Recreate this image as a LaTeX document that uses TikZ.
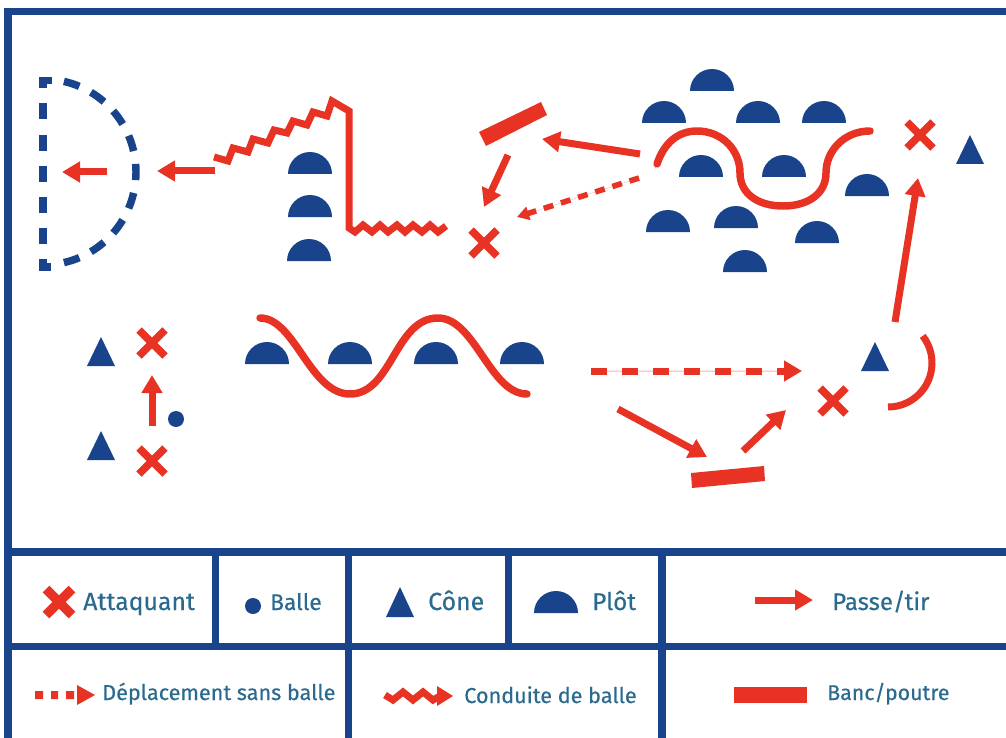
\documentclass[tikz,border=0pt]{standalone}
\usepackage{fontspec}
\setmainfont{Fira Sans}[FakeBold=0.35]
\usetikzlibrary{arrows.meta}
\definecolor{navy}{HTML}{19438A}
\definecolor{rouge}{HTML}{E83324}
\definecolor{legende}{HTML}{2A6A8F}
\newcommand{\mplot}[2]{\fill[navy] (#1-22,#2) arc[start angle=180,end angle=0,radius=16.5pt] -- cycle;}
\newcommand{\mcone}[3][14]{\fill[navy] (#2,#3-29) -- (#2+#1,#3) -- (#2-#1,#3) -- cycle;}
\newcommand{\mcross}[3][7.5]{\draw[rouge,line width=#1*0.75pt] (#2-13,#3-13) -- (#2+13,#3+13) (#2-13,#3+13) -- (#2+13,#3-13);}
\newcommand{\lblsize}[1]{\fontsize{#1}{20}\selectfont}
\tikzset{
  x=0.75pt,y=-0.75pt,
  frameline/.style={fill=navy,draw=none},
  redline/.style={draw=rouge,line width=5.25pt,line join=miter},
  curveline/.style={draw=rouge,line width=5.6pt,line cap=round},
  bluedash/.style={navy,line width=5.6pt},
  passarrow/.style={draw=rouge,fill=rouge,line width=5.25pt,-{Triangle[length=13.5pt,width=15pt]}},
  moverun/.style={passarrow,dash pattern=on 12pt off 11.25pt},
  lbl/.style={anchor=base west,inner sep=0pt,text=legende}
}
\begin{document}
\begin{tikzpicture}
\useasboundingbox (0,0) rectangle (1006,738);
\fill[white] (0,0) rectangle (1006,738);
% frame
\fill[frameline] (4,8) rectangle (12,738);
\fill[frameline] (4,8) rectangle (1006,15);
\fill[frameline] (4,548) rectangle (1006,556);
\fill[frameline] (4,643) rectangle (1006,650);
\fill[frameline] (212,548) rectangle (219,650);
\fill[frameline] (505,548) rectangle (512,650);
\fill[frameline] (345,548) rectangle (352,738);
\fill[frameline] (658,548) rectangle (666,738);
% goal
\foreach \a in {-72,-54,-36,-18,0,18,36,54,72}
  \draw[bluedash] ({43+93*cos(\a-5)},{172-93*sin(\a-5)}) arc[start angle=\a-5,end angle=\a+5,radius=69.75pt];
\foreach \y in {103,135,166,197,228}
  \draw[bluedash] (43,\y) -- (43,\y+16);
\draw[bluedash] (52,80.5) -- (43,80.5) -- (43,88);
\draw[bluedash] (43,259) -- (43,267) -- (51,267);
% arrows into goal
\coordinate (g1) at (107,172); \coordinate (g2) at (62,172);
\coordinate (g3) at (215,171); \coordinate (g4) at (157,171);
\draw[passarrow] (g1) -- (g2);
\draw[passarrow] (g3) -- (g4);
% plots column
\mplot{310}{174}\mplot{310}{217}\mplot{309}{261}
% dribble
\draw[redline] (214,157) -- (228,161) -- (233,148) -- (248,152) -- (253,139) -- (268,143) -- (274,130) -- (287,133) -- (293,121) -- (307,125) -- (313,112) -- (327,116) -- (332,101) -- (349,111) -- (349,228) -- (355,232) -- (363,225) -- (372,232) -- (380,225) -- (388,232) -- (397,225) -- (405,232) -- (413,225) -- (422,232) -- (430,225) -- (438,232) -- (446,226);
\mcross{484}{243}
% bench top
\fill[rouge] (541,102) -- (547,115) -- (486,146) -- (479,132) -- cycle;
\coordinate (a1) at (640,154); \coordinate (a2) at (542,139);
\draw[passarrow] (a1) -- (a2);
\coordinate (a3) at (508,155); \coordinate (a4) at (484,207);
\draw[passarrow] (a3) -- (a4);
\coordinate (a5) at (639,178); \coordinate (a6) at (517,217);
\draw[draw=rouge,fill=rouge,line width=4.2pt,dash pattern=on 7.5pt off 6pt,-{Triangle[length=9pt,width=10pt]}] (a5) -- (a6);
% plots field
\mplot{712}{91}\mplot{664}{123}\mplot{758}{123}\mplot{824}{123}
\mplot{701}{177}\mplot{784}{177}\mplot{867}{196}
\mplot{668}{232}\mplot{736}{228}\mplot{817}{243}\mplot{745}{272}
\draw[curveline] (657,164) .. controls (664,143) and (678,131) .. (697,131) .. controls (722,131) and (740,150) .. (740,173) .. controls (740,193) and (757,206) .. (783,206) .. controls (809,206) and (826,193) .. (826,173) .. controls (826,150) and (845,131) .. (870,131);
\mcross{920}{135}
\mcone{970}{164}
\coordinate (b1) at (895,322); \coordinate (b2) at (918,178);
\draw[passarrow] (b1) -- (b2);
% lower left
\mcone{101}{366}\mcone{101}{460}
\mcross{152}{343}\mcross{152}{461}
\coordinate (c1) at (152,426); \coordinate (c2) at (152,375);
\draw[passarrow] (c1) -- (c2);
\fill[navy] (176,419) circle[radius=6pt];
% row
\mplot{267}{364}\mplot{350}{364}\mplot{436}{364}\mplot{522}{364}
\draw[curveline] (260,318) .. controls (295,318) and (310,394) .. (350,394) .. controls (392,394) and (395,318) .. (438,318) .. controls (475,318) and (490,394) .. (527,394);
% lower right
\coordinate (d1) at (591,371); \coordinate (d2) at (802,371);
\draw[rouge,opacity=.12,line width=1.5pt] (d1) -- (d2);
\draw[moverun] (d1) -- (d2);
\coordinate (d3) at (618,409); \coordinate (d4) at (707,457);
\draw[passarrow] (d3) -- (d4);
\coordinate (d5) at (743,451); \coordinate (d6) at (786,410);
\draw[passarrow] (d5) -- (d6);
\fill[rouge] (691,473) -- (764,466) -- (765,481) -- (692,488) -- cycle;
\mcross{833}{401}
\mcone{875}{371}
\draw[redline] ({888+44*cos(38)},{363-44*sin(38)}) arc[start angle=38,end angle=-90,radius=33pt];
% legend
\mcross[9.5]{59}{602}
\node[lbl,font=\lblsize{18.6}] (l1) at (83,610) {Attaquant};
\fill[navy] (253,606) circle[radius=6pt];
\node[lbl,font=\lblsize{17}] (l2) at (270,610) {Balle};
\fill[navy] (400,587) -- (414,617) -- (386,617) -- cycle;
\node[lbl,font=\lblsize{18.6}] (l3) at (428,610) {Cône};
\mplot{556}{613}
\node[lbl,font=\lblsize{18.2}] (l4) at (592,610) {Plôt};
\coordinate (e1) at (755,600); \coordinate (e2) at (813,600);
\draw[passarrow] (e1) -- (e2);
\node[lbl,font=\lblsize{18}] (l5) at (832,610) {Passe/tir};
\fill[rouge] (35,691) rectangle (43,699) (51,691) rectangle (58,699) (66,691) rectangle (74,699);
\fill[rouge] (77,685) -- (95,695) -- (77,705) -- cycle;
\node[lbl,font=\lblsize{16.2}] (l6) at (102,700) {Déplacement sans balle};
\draw[redline] (385,695) -- (393,700) -- (403,692) -- (413,700) -- (423,692) -- (433,700) -- (440,696);
\fill[rouge] (437,686) -- (453,696) -- (437,706) -- cycle;
\node[lbl,font=\lblsize{16.2}] (l7) at (464,703) {Conduite de balle};
\fill[rouge] (734,687) rectangle (807,703);
\node[lbl,font=\lblsize{16}] (l8) at (827,700) {Banc/poutre};
\end{tikzpicture}
\end{document}
